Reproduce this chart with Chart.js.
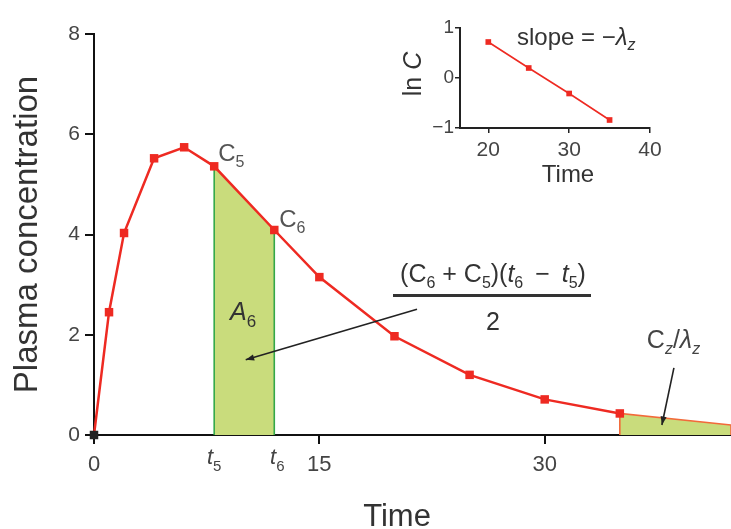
<!DOCTYPE html>
<html>
<head>
<meta charset="utf-8">
<script src="https://cdn.jsdelivr.net/npm/chart.js@4.4.1/dist/chart.umd.min.js"></script>
<style>
html, body { margin: 0; padding: 0; background: #fff; }
#wrap { position: relative; width: 731px; height: 529px; overflow: hidden; }
#main { position: absolute; left: 0; top: 0; }
#inset { position: absolute; left: 380px; top: 0; }
</style>
</head>
<body>
<div id="wrap">
<canvas id="main" width="731" height="529"></canvas>
<canvas id="inset" width="300" height="200"></canvas>
</div>
<script>
// plasma concentration curve
const times = [0, 1, 2, 4, 6, 8, 12, 15, 20, 25, 30, 35];
const conc = [0, 2.45, 4.03, 5.52, 5.74, 5.36, 4.09, 3.15, 1.97, 1.2, 0.71, 0.43];
// trapezoid A6 between t5 and t6
const aucTimes = [8, 8, 12, 12];
const aucConc = [0, 5.36, 4.09, 0];
// extrapolated tail Cz/lambda z
const tailTimes = [35, 35, 42.4, 42.4];
const tailConc = [0, 0.43, 0.2, 0];
const xTicks = [0, 15, 30];
const yTicks = [0, 2, 4, 6, 8];
// inset: ln C vs time
const lnTimes = [20, 25, 30, 35];
const lnConc = [0.72, 0.2, -0.31, -0.84];
const insetXTicks = [20, 30, 40];
const insetYTicks = [-1, 0, 1];

const F = '"Liberation Sans", Arial, sans-serif';
const RED = '#ee2a22';
const FILL = '#c9dc7c';
const GREEN = '#34a84a';

function pts(xs, ys) { return xs.map((x, i) => ({x: x, y: ys[i]})); }

function rich(ctx, x, y, parts, align) {
  // parts: [text, size, italic, dy]
  let w = 0;
  parts.forEach(p => { ctx.font = (p[2] ? 'italic ' : '') + p[1] + 'px ' + F; w += ctx.measureText(p[0]).width; });
  let cx = align === 'center' ? x - w / 2 : x;
  ctx.textAlign = 'left';
  parts.forEach(p => {
    ctx.font = (p[2] ? 'italic ' : '') + p[1] + 'px ' + F;
    ctx.fillText(p[0], cx, y + (p[3] || 0));
    cx += ctx.measureText(p[0]).width;
  });
}

function arrow(ctx, x1, y1, x2, y2) {
  ctx.strokeStyle = '#222';
  ctx.fillStyle = '#222';
  ctx.lineWidth = 1.6;
  ctx.beginPath(); ctx.moveTo(x1, y1); ctx.lineTo(x2, y2); ctx.stroke();
  const a = Math.atan2(y2 - y1, x2 - x1);
  ctx.beginPath();
  ctx.moveTo(x2, y2);
  ctx.lineTo(x2 - 9 * Math.cos(a - 0.35), y2 - 9 * Math.sin(a - 0.35));
  ctx.lineTo(x2 - 9 * Math.cos(a + 0.35), y2 - 9 * Math.sin(a + 0.35));
  ctx.closePath(); ctx.fill();
}

const mainNotes = {
  id: 'mainNotes',
  afterDraw(chart) {
    const ctx = chart.ctx, xs = chart.scales.x, ys = chart.scales.y;
    const px = v => xs.getPixelForValue(v), py = v => ys.getPixelForValue(v);
    ctx.save();
    ctx.textBaseline = 'alphabetic';
    ctx.fillStyle = '#555';
    rich(ctx, px(times[5]) + 4, py(conc[5]) - 5, [['C', 24], ['5', 16, false, 6]]);
    rich(ctx, px(times[6]) + 5, py(conc[6]) - 3, [['C', 24], ['6', 16, false, 6]]);
    ctx.fillStyle = '#333';
    rich(ctx, px(9.05), py(2.3), [['A', 25, true], ['6', 17, false, 7]]);
    // trapezoid formula
    rich(ctx, 493, 282, [['(', 25], ['C', 25], ['6', 16, false, 6], [' + ', 25], ['C', 25], ['5', 16, false, 6],
      [')(', 25], ['t', 25, true], ['6', 16, false, 6], [' \u2009\u2212\u2009 ', 25], ['t', 25, true], ['5', 16, false, 6], [')', 25]], 'center');
    ctx.fillRect(393, 294, 198, 3);
    rich(ctx, 493, 330, [['2', 25]], 'center');
    arrow(ctx, px(21.5), py(2.51), px(10.1), py(1.5));
    ctx.fillStyle = '#444';
    rich(ctx, px(36.8), py(1.74), [['C', 25], ['z', 16, true, 6], ['/', 25], ['\u03bb', 25, true], ['z', 16, true, 6]]);
    arrow(ctx, px(38.6), py(1.34), px(37.8), py(0.2));
    // t5 / t6 under the axis
    ctx.fillStyle = '#444';
    rich(ctx, px(aucTimes[0]), 464, [['t', 22, true], ['5', 15, false, 7]], 'center');
    rich(ctx, px(aucTimes[2]) + 3, 464, [['t', 22, true], ['6', 15, false, 7]], 'center');
    ctx.fillStyle = '#333';
    rich(ctx, 397, 526, [['Time', 31]], 'center');
    ctx.restore();
  }
};

new Chart(document.getElementById('main'), {
  type: 'line',
  data: {
    datasets: [
      {
        data: pts(times, conc),
        borderColor: RED,
        borderWidth: 2.5,
        pointStyle: 'rect',
        pointRadius: 6,
        pointBorderWidth: 0,
        pointBackgroundColor: times.map((t, i) => i === 0 ? '#222' : RED),
        fill: false,
        clip: false
      },
      {
        data: pts(aucTimes, aucConc),
        borderColor: GREEN,
        borderWidth: 1.6,
        pointRadius: 0,
        backgroundColor: FILL,
        fill: 'origin',
        segment: { borderColor: c => c.p0DataIndex === 1 ? 'transparent' : GREEN }
      },
      {
        data: pts(tailTimes, tailConc),
        borderColor: '#f26a3a',
        borderWidth: 1.6,
        pointRadius: 0,
        backgroundColor: FILL,
        fill: 'origin'
      }
    ]
  },
  options: {
    responsive: false,
    animation: false,
    layout: { autoPadding: false, padding: { top: 34, right: 0, left: 0, bottom: 0 } },
    plugins: { legend: { display: false }, tooltip: { enabled: false } },
    scales: {
      x: {
        type: 'linear', min: 0, max: 42.4,
        afterBuildTicks: s => { s.ticks = xTicks.map(v => ({value: v})); },
        afterFit: s => { s.height = 94; s.paddingLeft = 0; s.paddingRight = 0; },
        border: { color: '#111', width: 2 },
        grid: { drawOnChartArea: false, drawTicks: true, tickLength: 9, color: '#111', lineWidth: 2 },
        ticks: { color: '#444', font: { family: F, size: 22 }, padding: 8, maxRotation: 0, autoSkip: false }
      },
      y: {
        min: 0, max: 8,
        afterBuildTicks: s => { s.ticks = yTicks.map(v => ({value: v})); },
        afterFit: s => { s.width = 94; },
        border: { color: '#111', width: 2 },
        grid: { drawOnChartArea: false, drawTicks: true, tickLength: 9, color: '#111', lineWidth: 2 },
        ticks: { color: '#444', font: { family: F, size: 21 }, padding: 5 },
        title: { display: true, text: 'Plasma concentration', color: '#333',
          font: { family: F, size: 33, lineHeight: 1 }, padding: { top: 11, bottom: 0 } }
      }
    }
  },
  plugins: [mainNotes]
});

const insetNotes = {
  id: 'insetNotes',
  afterDraw(chart) {
    const ctx = chart.ctx;
    ctx.save();
    ctx.fillStyle = '#333';
    ctx.textBaseline = 'alphabetic';
    rich(ctx, 137, 45, [['slope = \u2212', 24], ['\u03bb', 24, true], ['z', 16, true, 5]]);
    ctx.textBaseline = 'middle';
    rich(ctx, 188, 175, [['Time', 24]], 'center');
    ctx.translate(34, 74);
    ctx.rotate(-Math.PI / 2);
    rich(ctx, 0, 0, [['ln ', 25], ['C', 25, true]], 'center');
    ctx.restore();
  }
};

new Chart(document.getElementById('inset'), {
  type: 'line',
  data: {
    datasets: [{
      data: pts(lnTimes, lnConc),
      borderColor: RED,
      borderWidth: 1.6,
      pointStyle: 'rect',
      pointRadius: 4,
      pointBorderWidth: 0,
      pointBackgroundColor: RED,
      fill: false,
      clip: false
    }]
  },
  options: {
    responsive: false,
    animation: false,
    layout: { autoPadding: false, padding: { top: 28, right: 30, left: 0, bottom: 0 } },
    plugins: { legend: { display: false }, tooltip: { enabled: false } },
    scales: {
      x: {
        type: 'linear', min: 16.5, max: 40,
        afterBuildTicks: s => { s.ticks = insetXTicks.map(v => ({value: v})); },
        afterFit: s => { s.height = 72; },
        border: { color: '#222', width: 2 },
        grid: { drawOnChartArea: false, drawTicks: true, tickLength: 5, color: '#222', lineWidth: 1.5 },
        ticks: { color: '#444', font: { family: F, size: 21 }, padding: 5, maxRotation: 0, autoSkip: false }
      },
      y: {
        min: -1, max: 1,
        afterBuildTicks: s => { s.ticks = insetYTicks.map(v => ({value: v})); },
        afterFit: s => { s.width = 80; },
        border: { color: '#222', width: 2 },
        grid: { drawOnChartArea: false, drawTicks: true, tickLength: 5, color: '#222', lineWidth: 1.5 },
        ticks: { color: '#444', font: { family: F, size: 19 }, padding: 1,
          callback: v => v < 0 ? '\u2212' + Math.abs(v) : String(v) }
      }
    }
  },
  plugins: [insetNotes]
});
</script>
</body>
</html>
